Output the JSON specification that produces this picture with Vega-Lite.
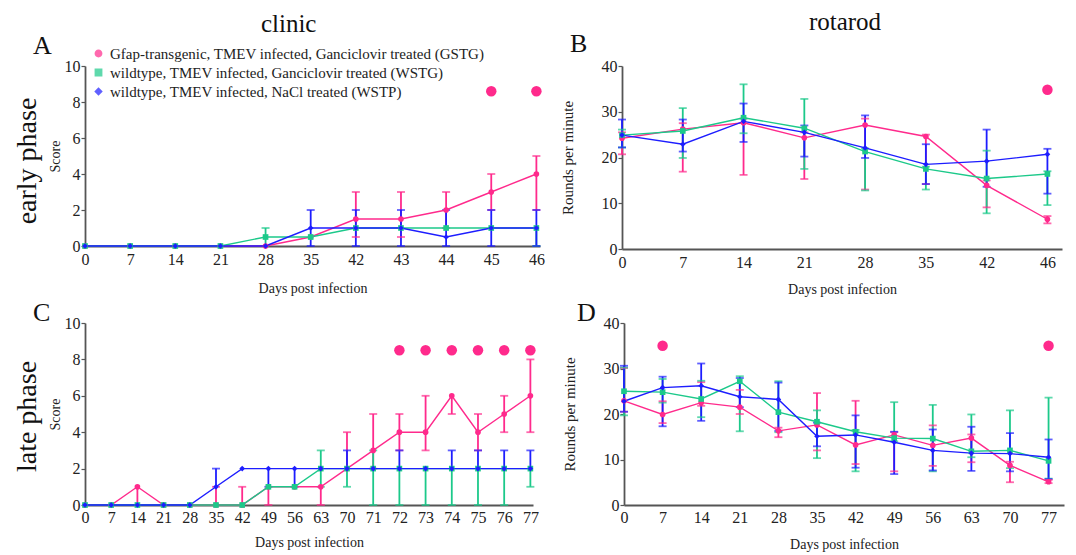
{
  "$schema": "https://vega.github.io/schema/vega-lite/v6.json",
  "background": "white",
  "padding": {"left": 14, "top": 10, "right": 3, "bottom": 2},
  "config": {
    "font": "Liberation Serif",
    "view": {"stroke": null},
    "axis": {
      "labelFont": "Liberation Serif", "labelFontSize": 16, "labelColor": "#222",
      "titleFont": "Liberation Serif", "titleFontSize": 15, "titleFontWeight": "normal", "titleColor": "#222",
      "domainColor": "#555", "domainWidth": 1.8, "tickColor": "#555", "tickWidth": 1.2, "tickSize": 4, "grid": false
    },
    "axisX": {"labelAngle": 0, "ticks": false, "titleFontSize": 14},
    "axisY": {"labelPadding": 1},
    "title": {"font": "Liberation Serif", "fontWeight": "normal", "color": "#111"},
    "legend": {"labelFont": "Liberation Serif", "labelFontSize": 15, "labelColor": "#222", "labelLimit": 0}
  },
  "datasets": {
    "A": [
      {"day": 0, "g": "GSTG", "v": 0}, {"day": 7, "g": "GSTG", "v": 0}, {"day": 14, "g": "GSTG", "v": 0}, {"day": 21, "g": "GSTG", "v": 0},
      {"day": 28, "g": "GSTG", "v": 0}, {"day": 35, "g": "GSTG", "v": 0.5},
      {"day": 42, "g": "GSTG", "v": 1.5, "lo": 0.5, "hi": 3}, {"day": 43, "g": "GSTG", "v": 1.5, "lo": 0.5, "hi": 3},
      {"day": 44, "g": "GSTG", "v": 2, "lo": 1, "hi": 3}, {"day": 45, "g": "GSTG", "v": 3, "lo": 2, "hi": 4},
      {"day": 46, "g": "GSTG", "v": 4, "lo": 2, "hi": 5},
      {"day": 0, "g": "WSTG", "v": 0}, {"day": 7, "g": "WSTG", "v": 0}, {"day": 14, "g": "WSTG", "v": 0}, {"day": 21, "g": "WSTG", "v": 0},
      {"day": 28, "g": "WSTG", "v": 0.5, "lo": 0, "hi": 1}, {"day": 35, "g": "WSTG", "v": 0.5},
      {"day": 42, "g": "WSTG", "v": 1}, {"day": 43, "g": "WSTG", "v": 1}, {"day": 44, "g": "WSTG", "v": 1}, {"day": 45, "g": "WSTG", "v": 1},
      {"day": 46, "g": "WSTG", "v": 1, "lo": 0, "hi": 1},
      {"day": 0, "g": "WSTP", "v": 0}, {"day": 7, "g": "WSTP", "v": 0}, {"day": 14, "g": "WSTP", "v": 0}, {"day": 21, "g": "WSTP", "v": 0},
      {"day": 28, "g": "WSTP", "v": 0}, {"day": 35, "g": "WSTP", "v": 1, "lo": 0, "hi": 2},
      {"day": 42, "g": "WSTP", "v": 1, "lo": 0, "hi": 2}, {"day": 43, "g": "WSTP", "v": 1, "lo": 0, "hi": 2},
      {"day": 44, "g": "WSTP", "v": 0.5, "lo": 0, "hi": 2}, {"day": 45, "g": "WSTP", "v": 1, "lo": 0, "hi": 2},
      {"day": 46, "g": "WSTP", "v": 1, "lo": 0, "hi": 2}
    ],
    "sigA": [{"day": 45, "y": 8.6}, {"day": 46, "y": 8.6}],
    "B": [
      {"day": 0, "g": "GSTG", "v": 24.2, "lo": 20.7, "hi": 25.5}, {"day": 7, "g": "GSTG", "v": 26.2, "lo": 16.9, "hi": 27.5},
      {"day": 14, "g": "GSTG", "v": 27.6, "lo": 16.2, "hi": 28.5}, {"day": 21, "g": "GSTG", "v": 24.3, "lo": 15.3, "hi": 25.5},
      {"day": 28, "g": "GSTG", "v": 27.1, "lo": 13, "hi": 28.5}, {"day": 35, "g": "GSTG", "v": 24.6, "lo": 14.2, "hi": 25},
      {"day": 42, "g": "GSTG", "v": 13.9, "lo": 9.1, "hi": 15}, {"day": 46, "g": "GSTG", "v": 6.5, "lo": 5.6, "hi": 7.2},
      {"day": 0, "g": "WSTG", "v": 24.9, "lo": 22.2, "hi": 26.1}, {"day": 7, "g": "WSTG", "v": 25.8, "lo": 19.9, "hi": 30.8},
      {"day": 14, "g": "WSTG", "v": 28.7, "lo": 25.3, "hi": 36}, {"day": 21, "g": "WSTG", "v": 26.4, "lo": 17.5, "hi": 32.8},
      {"day": 28, "g": "WSTG", "v": 21.3, "lo": 12.8, "hi": 22}, {"day": 35, "g": "WSTG", "v": 17.5, "lo": 13, "hi": 18},
      {"day": 42, "g": "WSTG", "v": 15.4, "lo": 7.8, "hi": 21.5}, {"day": 46, "g": "WSTG", "v": 16.4, "lo": 9.6, "hi": 17},
      {"day": 0, "g": "WSTP", "v": 24.9, "lo": 22.2, "hi": 28.3}, {"day": 7, "g": "WSTP", "v": 22.9, "lo": 21.3, "hi": 28.3},
      {"day": 14, "g": "WSTP", "v": 27.9, "lo": 23.4, "hi": 31.8}, {"day": 21, "g": "WSTP", "v": 25.5, "lo": 20.2, "hi": 27},
      {"day": 28, "g": "WSTP", "v": 22.1, "lo": 19.9, "hi": 29.2}, {"day": 35, "g": "WSTP", "v": 18.5, "lo": 14.2, "hi": 22.9},
      {"day": 42, "g": "WSTP", "v": 19.2, "lo": 13.6, "hi": 26.1}, {"day": 46, "g": "WSTP", "v": 20.7, "lo": 12.1, "hi": 21.9}
    ],
    "sigB": [{"day": 46, "y": 34.8}],
    "C": [
      {"day": 0, "g": "GSTG", "v": 0}, {"day": 7, "g": "GSTG", "v": 0}, {"day": 14, "g": "GSTG", "v": 1, "lo": 0, "hi": 1},
      {"day": 21, "g": "GSTG", "v": 0}, {"day": 28, "g": "GSTG", "v": 0}, {"day": 35, "g": "GSTG", "v": 0, "lo": 0, "hi": 1},
      {"day": 42, "g": "GSTG", "v": 0, "lo": 0, "hi": 1}, {"day": 49, "g": "GSTG", "v": 1, "lo": 0, "hi": 1},
      {"day": 56, "g": "GSTG", "v": 1}, {"day": 63, "g": "GSTG", "v": 1, "lo": 0, "hi": 1},
      {"day": 70, "g": "GSTG", "v": 2, "lo": 2, "hi": 4}, {"day": 71, "g": "GSTG", "v": 3, "lo": 2, "hi": 5},
      {"day": 72, "g": "GSTG", "v": 4, "lo": 3, "hi": 5}, {"day": 73, "g": "GSTG", "v": 4, "lo": 3, "hi": 6},
      {"day": 74, "g": "GSTG", "v": 6, "lo": 5, "hi": 6}, {"day": 75, "g": "GSTG", "v": 4, "lo": 3, "hi": 5},
      {"day": 76, "g": "GSTG", "v": 5, "lo": 4, "hi": 6}, {"day": 77, "g": "GSTG", "v": 6, "lo": 4, "hi": 8},
      {"day": 0, "g": "WSTG", "v": 0}, {"day": 7, "g": "WSTG", "v": 0}, {"day": 14, "g": "WSTG", "v": 0}, {"day": 21, "g": "WSTG", "v": 0},
      {"day": 28, "g": "WSTG", "v": 0}, {"day": 35, "g": "WSTG", "v": 0}, {"day": 42, "g": "WSTG", "v": 0},
      {"day": 49, "g": "WSTG", "v": 1}, {"day": 56, "g": "WSTG", "v": 1}, {"day": 63, "g": "WSTG", "v": 2, "lo": 1, "hi": 3},
      {"day": 70, "g": "WSTG", "v": 2, "lo": 1, "hi": 2}, {"day": 71, "g": "WSTG", "v": 2, "lo": 0, "hi": 3},
      {"day": 72, "g": "WSTG", "v": 2, "lo": 0, "hi": 2}, {"day": 73, "g": "WSTG", "v": 2, "lo": 0, "hi": 2},
      {"day": 74, "g": "WSTG", "v": 2, "lo": 0, "hi": 2}, {"day": 75, "g": "WSTG", "v": 2, "lo": 0, "hi": 2},
      {"day": 76, "g": "WSTG", "v": 2, "lo": 0, "hi": 2}, {"day": 77, "g": "WSTG", "v": 2, "lo": 1, "hi": 2},
      {"day": 0, "g": "WSTP", "v": 0}, {"day": 7, "g": "WSTP", "v": 0}, {"day": 14, "g": "WSTP", "v": 0}, {"day": 21, "g": "WSTP", "v": 0},
      {"day": 28, "g": "WSTP", "v": 0}, {"day": 35, "g": "WSTP", "v": 1, "lo": 1, "hi": 2}, {"day": 42, "g": "WSTP", "v": 2},
      {"day": 49, "g": "WSTP", "v": 2, "lo": 1, "hi": 2}, {"day": 56, "g": "WSTP", "v": 2, "lo": 1, "hi": 2},
      {"day": 63, "g": "WSTP", "v": 2}, {"day": 70, "g": "WSTP", "v": 2, "lo": 2, "hi": 3}, {"day": 71, "g": "WSTP", "v": 2},
      {"day": 72, "g": "WSTP", "v": 2, "lo": 2, "hi": 3}, {"day": 73, "g": "WSTP", "v": 2},
      {"day": 74, "g": "WSTP", "v": 2, "lo": 2, "hi": 3}, {"day": 75, "g": "WSTP", "v": 2, "lo": 2, "hi": 3},
      {"day": 76, "g": "WSTP", "v": 2, "lo": 2, "hi": 3}, {"day": 77, "g": "WSTP", "v": 2, "lo": 2, "hi": 3}
    ],
    "sigC": [{"day": 72, "y": 8.5}, {"day": 73, "y": 8.5}, {"day": 74, "y": 8.5}, {"day": 75, "y": 8.5}, {"day": 76, "y": 8.5}, {"day": 77, "y": 8.5}],
    "D": [
      {"day": 0, "g": "GSTG", "v": 22.9, "lo": 20.5, "hi": 30.1}, {"day": 7, "g": "GSTG", "v": 19.9, "lo": 18, "hi": 22.8},
      {"day": 14, "g": "GSTG", "v": 22.5, "lo": 21.8, "hi": 27}, {"day": 21, "g": "GSTG", "v": 21.5, "lo": 20, "hi": 25.3},
      {"day": 28, "g": "GSTG", "v": 16.3, "lo": 14.9, "hi": 17}, {"day": 35, "g": "GSTG", "v": 17.6, "lo": 12, "hi": 24.6},
      {"day": 42, "g": "GSTG", "v": 13.2, "lo": 9, "hi": 22.9}, {"day": 49, "g": "GSTG", "v": 15.4, "lo": 7.4, "hi": 16},
      {"day": 56, "g": "GSTG", "v": 13.1, "lo": 8.6, "hi": 17.5}, {"day": 63, "g": "GSTG", "v": 14.7, "lo": 9.4, "hi": 15.5},
      {"day": 70, "g": "GSTG", "v": 8.7, "lo": 5, "hi": 9.5}, {"day": 77, "g": "GSTG", "v": 5.1, "lo": 4.8, "hi": 5.5},
      {"day": 0, "g": "WSTG", "v": 25, "lo": 19.7, "hi": 30.2}, {"day": 7, "g": "WSTG", "v": 24.8, "lo": 22.5, "hi": 27.7},
      {"day": 14, "g": "WSTG", "v": 23.3, "lo": 19.3, "hi": 27.3}, {"day": 21, "g": "WSTG", "v": 27.2, "lo": 16.2, "hi": 28.3},
      {"day": 28, "g": "WSTG", "v": 20.4, "lo": 16, "hi": 27.2}, {"day": 35, "g": "WSTG", "v": 18.3, "lo": 10.3, "hi": 20.8},
      {"day": 42, "g": "WSTG", "v": 16.1, "lo": 7.4, "hi": 16.5}, {"day": 49, "g": "WSTG", "v": 14.7, "lo": 14, "hi": 22.6},
      {"day": 56, "g": "WSTG", "v": 14.6, "lo": 7.4, "hi": 22}, {"day": 63, "g": "WSTG", "v": 11.8, "lo": 10.5, "hi": 19.9},
      {"day": 70, "g": "WSTG", "v": 12, "lo": 8.1, "hi": 20.8}, {"day": 77, "g": "WSTG", "v": 9.7, "lo": 5.8, "hi": 23.6},
      {"day": 0, "g": "WSTP", "v": 22.8, "lo": 20.5, "hi": 30.6}, {"day": 7, "g": "WSTP", "v": 25.8, "lo": 17.3, "hi": 28.2},
      {"day": 14, "g": "WSTP", "v": 26.2, "lo": 18.5, "hi": 31.1}, {"day": 21, "g": "WSTP", "v": 23.8, "lo": 21.5, "hi": 27.9},
      {"day": 28, "g": "WSTP", "v": 23.2, "lo": 16.3, "hi": 26.9}, {"day": 35, "g": "WSTP", "v": 15.1, "lo": 12.9, "hi": 18.1},
      {"day": 42, "g": "WSTP", "v": 15.4, "lo": 8.2, "hi": 19.7}, {"day": 49, "g": "WSTP", "v": 13.8, "lo": 6.8, "hi": 16.1},
      {"day": 56, "g": "WSTP", "v": 12, "lo": 7.6, "hi": 16.6}, {"day": 63, "g": "WSTP", "v": 11.4, "lo": 7.5, "hi": 17.2},
      {"day": 70, "g": "WSTP", "v": 11.3, "lo": 7.4, "hi": 15.8}, {"day": 77, "g": "WSTP", "v": 10.5, "lo": 5.7, "hi": 14.4}
    ],
    "sigD": [{"day": 7, "y": 35}, {"day": 77, "y": 35}]
  },
  "spacing": 4,
  "resolve": {"scale": {"color": "independent", "shape": "independent"}, "legend": {"color": "independent", "shape": "independent"}},
  "vconcat": [
    {
      "title": {"text": "early phase", "orient": "left", "fontSize": 28, "anchor": "middle", "offset": -9, "dx": -8},
      "spacing": 15,
      "resolve": {"scale": {"color": "independent", "shape": "independent"}, "legend": {"color": "independent", "shape": "independent"}},
      "hconcat": [
        {
          "title": {"text": "clinic", "fontSize": 25, "anchor": "middle", "offset": -4},
          "resolve": {"scale": {"color": "independent", "shape": "independent"}, "legend": {"color": "independent", "shape": "independent"}},
          "vconcat": [
            {
              "data": {"name": "A"},
              "width": 455, "height": 180,
              "title": {"text": "A", "fontSize": 26, "anchor": "start", "frame": "group", "dx": -52, "offset": -13},
              "encoding": {
                "x": {"field": "day", "type": "ordinal", "title": "Days post infection",
                      "axis": {"labelPadding": 5, "titlePadding": 14},
                      "scale": {"type": "point", "padding": 0.04, "align": 0, "domain": [0, 7, 14, 21, 28, 35, 42, 43, 44, 45, 46]}}
              },
              "layer": [
                {"mark": {"type": "rule", "strokeWidth": 1.8},
                 "encoding": {"y": {"field": "lo", "type": "quantitative", "title": "Score", "scale": {"domain": [0, 10]}, "axis": {"values": [0, 2, 4, 6, 8, 10], "titleFontSize": 14, "titlePadding": 2}},
                              "y2": {"field": "hi"},
                              "color": {"field": "g", "type": "nominal", "scale": {"domain": ["GSTG", "WSTG", "WSTP"], "range": ["#ff2a8c", "#1cc98a", "#1d1dff"]}}}},
                {"transform": [{"filter": "datum.lo < datum.v"}],
                 "mark": {"type": "tick", "thickness": 1.8, "size": 8},
                 "encoding": {"y": {"field": "lo", "type": "quantitative", "title": "Score", "scale": {"domain": [0, 10]}, "axis": {"values": [0, 2, 4, 6, 8, 10], "titleFontSize": 14, "titlePadding": 2}},
                              "color": {"field": "g", "type": "nominal"}}},
                {"transform": [{"filter": "datum.hi > datum.v"}],
                 "mark": {"type": "tick", "thickness": 1.8, "size": 8},
                 "encoding": {"y": {"field": "hi", "type": "quantitative", "title": "Score", "scale": {"domain": [0, 10]}, "axis": {"values": [0, 2, 4, 6, 8, 10], "titleFontSize": 14, "titlePadding": 2}},
                              "color": {"field": "g", "type": "nominal"}}},
                {"mark": {"type": "line", "strokeWidth": 1.4},
                 "encoding": {"y": {"field": "v", "type": "quantitative", "title": "Score", "scale": {"domain": [0, 10]}, "axis": {"values": [0, 2, 4, 6, 8, 10], "titleFontSize": 14, "titlePadding": 2}},
                              "color": {"field": "g", "type": "nominal"}}},
                {"mark": {"type": "point", "filled": true, "size": 32, "opacity": 1},
                 "encoding": {"y": {"field": "v", "type": "quantitative", "title": "Score", "scale": {"domain": [0, 10]}, "axis": {"values": [0, 2, 4, 6, 8, 10], "titleFontSize": 14, "titlePadding": 2}},
                              "color": {"field": "g", "type": "nominal",
                                        "legend": {"orient": "none", "legendX": 6, "legendY": -20, "title": null, "rowPadding": 3, "symbolSize": 40,
                                                   "labelExpr": "datum.label == 'GSTG' ? 'Gfap-transgenic, TMEV infected, Ganciclovir treated (GSTG)' : datum.label == 'WSTG' ? 'wildtype,  TMEV infected, Ganciclovir treated (WSTG)' : 'wildtype,  TMEV infected, NaCl treated (WSTP)'"}},
                              "shape": {"field": "g", "type": "nominal", "scale": {"domain": ["GSTG", "WSTG", "WSTP"], "range": ["circle", "square", "diamond"]},
                                        "legend": {"orient": "none", "legendX": 6, "legendY": -20, "title": null, "rowPadding": 3, "symbolSize": 40,
                                                   "labelExpr": "datum.label == 'GSTG' ? 'Gfap-transgenic, TMEV infected, Ganciclovir treated (GSTG)' : datum.label == 'WSTG' ? 'wildtype,  TMEV infected, Ganciclovir treated (WSTG)' : 'wildtype,  TMEV infected, NaCl treated (WSTP)'"}}}},
                {"data": {"name": "sigA"},
                 "mark": {"type": "point", "filled": true, "size": 110, "color": "#ff2a8c", "opacity": 1},
                 "encoding": {"y": {"field": "y", "type": "quantitative", "title": "Score", "scale": {"domain": [0, 10]}, "axis": {"values": [0, 2, 4, 6, 8, 10], "titleFontSize": 14, "titlePadding": 2}}}}
              ]
            }
          ]
        },
        {
          "title": {"text": "rotarod", "fontSize": 25, "anchor": "middle", "offset": -4, "dx": 34},
          "resolve": {"scale": {"color": "independent", "shape": "independent"}, "legend": {"color": "independent", "shape": "independent"}},
          "vconcat": [
            {
              "data": {"name": "B"},
              "width": 440, "height": 183,
              "title": {"text": "B", "fontSize": 26, "anchor": "start", "frame": "group", "dx": -52, "offset": 1},
              "encoding": {
                "x": {"field": "day", "type": "ordinal", "title": "Days post infection",
                      "axis": {"labelPadding": 5, "titlePadding": 12},
                      "scale": {"type": "point", "padding": 0.12, "align": 0, "domain": [0, 7, 14, 21, 28, 35, 42, 46]}}
              },
              "layer": [
                {"mark": {"type": "rule", "strokeWidth": 1.8},
                 "encoding": {"y": {"field": "lo", "type": "quantitative", "title": "Rounds per minute", "scale": {"domain": [0, 40]}, "axis": {"values": [0, 10, 20, 30, 40], "titlePadding": 26}},
                              "y2": {"field": "hi"},
                              "color": {"field": "g", "type": "nominal", "scale": {"domain": ["GSTG", "WSTG", "WSTP"], "range": ["#ff2a8c", "#1cc98a", "#1d1dff"]}, "legend": null}}},
                {"transform": [{"filter": "datum.lo < datum.v"}],
                 "mark": {"type": "tick", "thickness": 1.8, "size": 8},
                 "encoding": {"y": {"field": "lo", "type": "quantitative", "title": "Rounds per minute", "scale": {"domain": [0, 40]}, "axis": {"values": [0, 10, 20, 30, 40], "titlePadding": 26}},
                              "color": {"field": "g", "type": "nominal", "legend": null}}},
                {"transform": [{"filter": "datum.hi > datum.v"}],
                 "mark": {"type": "tick", "thickness": 1.8, "size": 8},
                 "encoding": {"y": {"field": "hi", "type": "quantitative", "title": "Rounds per minute", "scale": {"domain": [0, 40]}, "axis": {"values": [0, 10, 20, 30, 40], "titlePadding": 26}},
                              "color": {"field": "g", "type": "nominal", "legend": null}}},
                {"mark": {"type": "line", "strokeWidth": 1.4},
                 "encoding": {"y": {"field": "v", "type": "quantitative", "title": "Rounds per minute", "scale": {"domain": [0, 40]}, "axis": {"values": [0, 10, 20, 30, 40], "titlePadding": 26}},
                              "color": {"field": "g", "type": "nominal", "legend": null}}},
                {"mark": {"type": "point", "filled": true, "size": 32, "opacity": 1},
                 "encoding": {"y": {"field": "v", "type": "quantitative", "title": "Rounds per minute", "scale": {"domain": [0, 40]}, "axis": {"values": [0, 10, 20, 30, 40], "titlePadding": 26}},
                              "color": {"field": "g", "type": "nominal", "legend": null},
                              "shape": {"field": "g", "type": "nominal", "scale": {"domain": ["GSTG", "WSTG", "WSTP"], "range": ["circle", "square", "diamond"]}, "legend": null}}},
                {"data": {"name": "sigB"},
                 "mark": {"type": "point", "filled": true, "size": 110, "color": "#ff2a8c", "opacity": 1},
                 "encoding": {"y": {"field": "y", "type": "quantitative", "title": "Rounds per minute", "scale": {"domain": [0, 40]}, "axis": {"values": [0, 10, 20, 30, 40], "titlePadding": 26}}}}
              ]
            }
          ]
        }
      ]
    },
    {
      "title": {"text": "late phase", "orient": "left", "fontSize": 28, "anchor": "middle", "offset": -9, "dx": 9},
      "spacing": 23,
      "resolve": {"scale": {"color": "independent", "shape": "independent"}, "legend": {"color": "independent", "shape": "independent"}},
      "hconcat": [
        {
          "data": {"name": "C"},
          "width": 448, "height": 182,
          "title": {"text": "C", "fontSize": 26, "anchor": "start", "frame": "group", "dx": -52, "offset": -11},
          "encoding": {
            "x": {"field": "day", "type": "ordinal", "title": "Days post infection",
                  "axis": {"labelPadding": 4, "titlePadding": 10},
                  "scale": {"type": "point", "padding": 0.05, "align": 0, "domain": [0, 7, 14, 21, 28, 35, 42, 49, 56, 63, 70, 71, 72, 73, 74, 75, 76, 77]}}
          },
          "layer": [
            {"mark": {"type": "rule", "strokeWidth": 1.8},
             "encoding": {"y": {"field": "lo", "type": "quantitative", "title": "Score", "scale": {"domain": [0, 10]}, "axis": {"values": [0, 2, 4, 6, 8, 10], "titleFontSize": 14, "titlePadding": 2}},
                          "y2": {"field": "hi"},
                          "color": {"field": "g", "type": "nominal", "scale": {"domain": ["GSTG", "WSTG", "WSTP"], "range": ["#ff2a8c", "#1cc98a", "#1d1dff"]}, "legend": null}}},
            {"transform": [{"filter": "datum.lo < datum.v"}],
             "mark": {"type": "tick", "thickness": 1.8, "size": 8},
             "encoding": {"y": {"field": "lo", "type": "quantitative", "title": "Score", "scale": {"domain": [0, 10]}, "axis": {"values": [0, 2, 4, 6, 8, 10], "titleFontSize": 14, "titlePadding": 2}},
                          "color": {"field": "g", "type": "nominal", "legend": null}}},
            {"transform": [{"filter": "datum.hi > datum.v"}],
             "mark": {"type": "tick", "thickness": 1.8, "size": 8},
             "encoding": {"y": {"field": "hi", "type": "quantitative", "title": "Score", "scale": {"domain": [0, 10]}, "axis": {"values": [0, 2, 4, 6, 8, 10], "titleFontSize": 14, "titlePadding": 2}},
                          "color": {"field": "g", "type": "nominal", "legend": null}}},
            {"mark": {"type": "line", "strokeWidth": 1.4},
             "encoding": {"y": {"field": "v", "type": "quantitative", "title": "Score", "scale": {"domain": [0, 10]}, "axis": {"values": [0, 2, 4, 6, 8, 10], "titleFontSize": 14, "titlePadding": 2}},
                          "color": {"field": "g", "type": "nominal", "legend": null}}},
            {"mark": {"type": "point", "filled": true, "size": 32, "opacity": 1},
             "encoding": {"y": {"field": "v", "type": "quantitative", "title": "Score", "scale": {"domain": [0, 10]}, "axis": {"values": [0, 2, 4, 6, 8, 10], "titleFontSize": 14, "titlePadding": 2}},
                          "color": {"field": "g", "type": "nominal", "legend": null},
                          "shape": {"field": "g", "type": "nominal", "scale": {"domain": ["GSTG", "WSTG", "WSTP"], "range": ["circle", "square", "diamond"]}, "legend": null}}},
            {"data": {"name": "sigC"},
             "mark": {"type": "point", "filled": true, "size": 110, "color": "#ff2a8c", "opacity": 1},
             "encoding": {"y": {"field": "y", "type": "quantitative", "title": "Score", "scale": {"domain": [0, 10]}, "axis": {"values": [0, 2, 4, 6, 8, 10], "titleFontSize": 14, "titlePadding": 2}}}}
          ]
        },
        {
          "data": {"name": "D"},
          "width": 440, "height": 182,
          "title": {"text": "D", "fontSize": 26, "anchor": "start", "frame": "group", "dx": -47, "offset": -11},
          "encoding": {
            "x": {"field": "day", "type": "ordinal", "title": "Days post infection",
                  "axis": {"labelPadding": 4, "titlePadding": 12},
                  "scale": {"type": "point", "padding": 0.2, "align": 0, "domain": [0, 7, 14, 21, 28, 35, 42, 49, 56, 63, 70, 77]}}
          },
          "layer": [
            {"mark": {"type": "rule", "strokeWidth": 1.8},
             "encoding": {"y": {"field": "lo", "type": "quantitative", "title": "Rounds per minute", "scale": {"domain": [0, 40]}, "axis": {"values": [0, 10, 20, 30, 40], "titlePadding": 26}},
                          "y2": {"field": "hi"},
                          "color": {"field": "g", "type": "nominal", "scale": {"domain": ["GSTG", "WSTG", "WSTP"], "range": ["#ff2a8c", "#1cc98a", "#1d1dff"]}, "legend": null}}},
            {"transform": [{"filter": "datum.lo < datum.v"}],
             "mark": {"type": "tick", "thickness": 1.8, "size": 8},
             "encoding": {"y": {"field": "lo", "type": "quantitative", "title": "Rounds per minute", "scale": {"domain": [0, 40]}, "axis": {"values": [0, 10, 20, 30, 40], "titlePadding": 26}},
                          "color": {"field": "g", "type": "nominal", "legend": null}}},
            {"transform": [{"filter": "datum.hi > datum.v"}],
             "mark": {"type": "tick", "thickness": 1.8, "size": 8},
             "encoding": {"y": {"field": "hi", "type": "quantitative", "title": "Rounds per minute", "scale": {"domain": [0, 40]}, "axis": {"values": [0, 10, 20, 30, 40], "titlePadding": 26}},
                          "color": {"field": "g", "type": "nominal", "legend": null}}},
            {"mark": {"type": "line", "strokeWidth": 1.4},
             "encoding": {"y": {"field": "v", "type": "quantitative", "title": "Rounds per minute", "scale": {"domain": [0, 40]}, "axis": {"values": [0, 10, 20, 30, 40], "titlePadding": 26}},
                          "color": {"field": "g", "type": "nominal", "legend": null}}},
            {"mark": {"type": "point", "filled": true, "size": 32, "opacity": 1},
             "encoding": {"y": {"field": "v", "type": "quantitative", "title": "Rounds per minute", "scale": {"domain": [0, 40]}, "axis": {"values": [0, 10, 20, 30, 40], "titlePadding": 26}},
                          "color": {"field": "g", "type": "nominal", "legend": null},
                          "shape": {"field": "g", "type": "nominal", "scale": {"domain": ["GSTG", "WSTG", "WSTP"], "range": ["circle", "square", "diamond"]}, "legend": null}}},
            {"data": {"name": "sigD"},
             "mark": {"type": "point", "filled": true, "size": 110, "color": "#ff2a8c", "opacity": 1},
             "encoding": {"y": {"field": "y", "type": "quantitative", "title": "Rounds per minute", "scale": {"domain": [0, 40]}, "axis": {"values": [0, 10, 20, 30, 40], "titlePadding": 26}}}}
          ]
        }
      ]
    }
  ]
}
